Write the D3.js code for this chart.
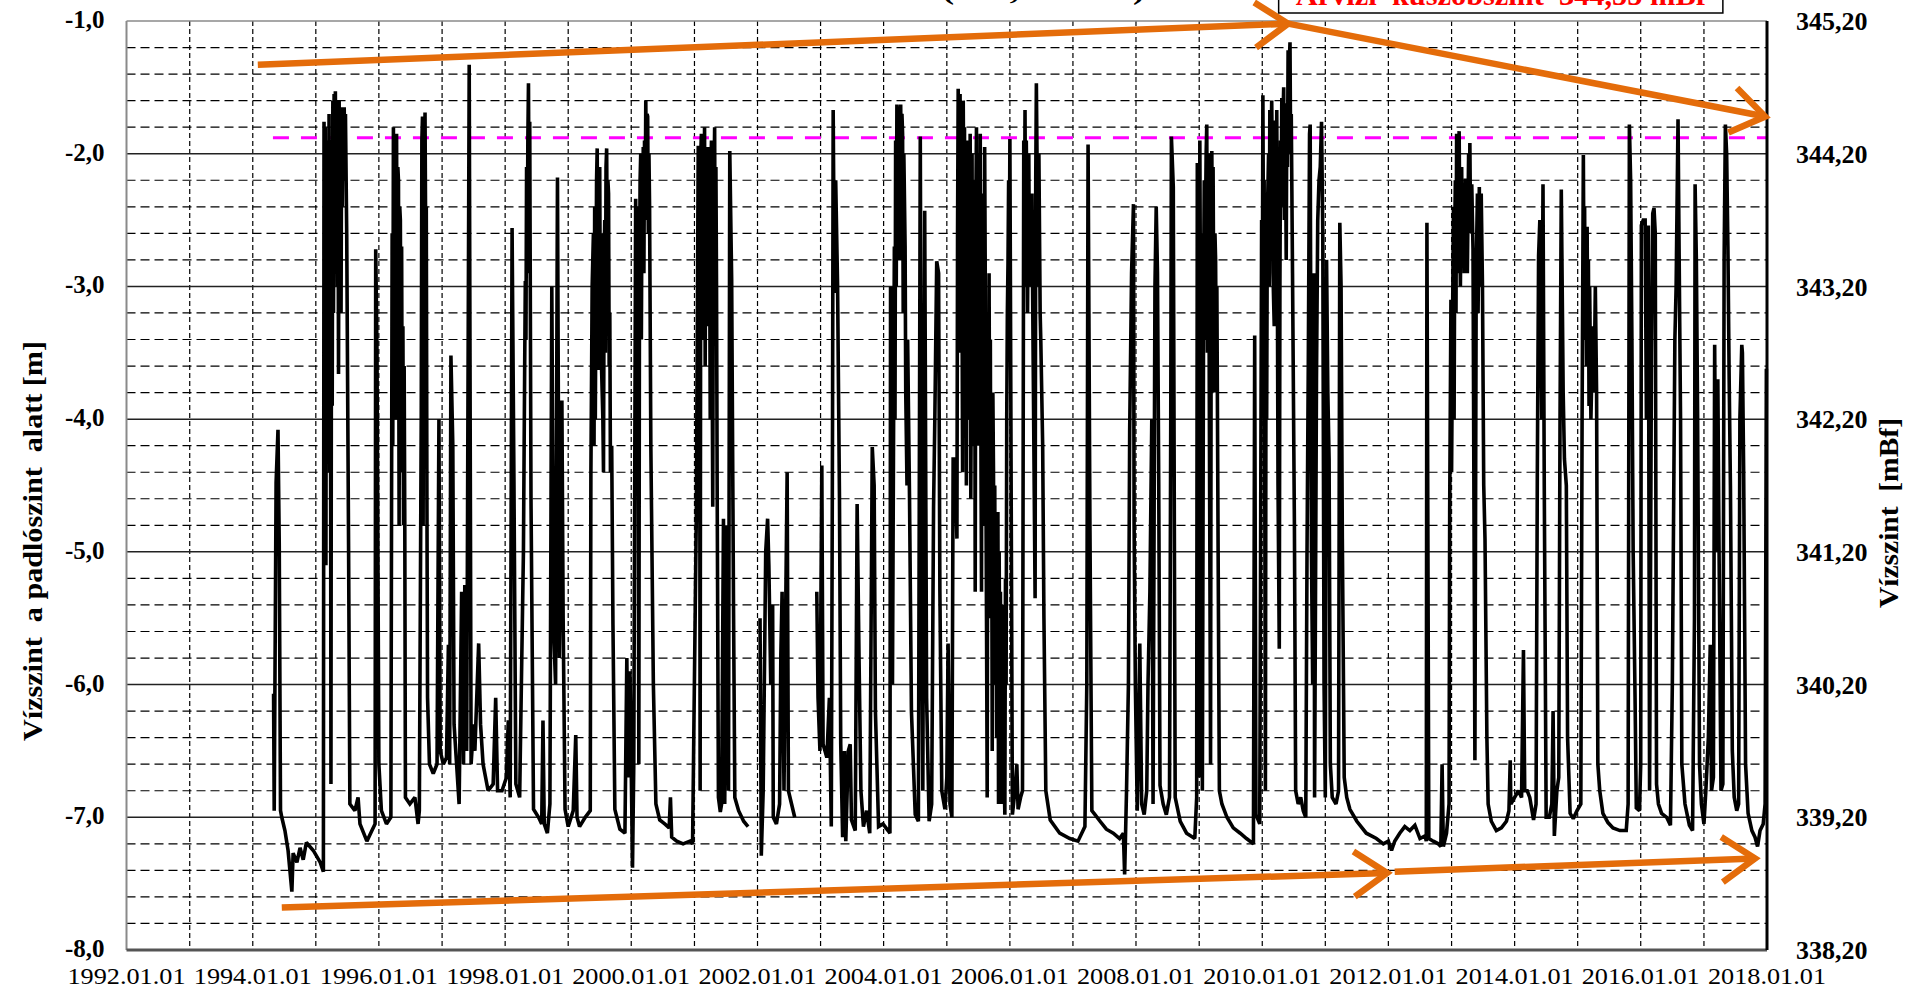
<!DOCTYPE html>
<html>
<head>
<meta charset="utf-8">
<script src="https://cdn.jsdelivr.net/npm/d3@7"></script>
<style>
  body { margin: 0; background: #fff; }
  svg { display: block; background: #fff; }
  text { font-family: "Liberation Serif", "Times New Roman", serif; }
</style>
</head>
<body>
<svg id="chart" width="1907" height="990" viewBox="0 0 1907 990"></svg>
<script>
// ---- data ----
const xLabelYears = [1992, 1994, 1996, 1998, 2000, 2002, 2004, 2006, 2008, 2010, 2012, 2014, 2016, 2018];
const gridYears = [1993, 1994, 1995, 1996, 1997, 1998, 1999, 2000, 2001, 2002, 2003, 2004, 2005,
    2006, 2007, 2008, 2009, 2010, 2011, 2012, 2013, 2014, 2015, 2016, 2017];
const depthTicks = [-8, -7, -6, -5, -4, -3, -2, -1];
const mbfTicks = [338.2, 339.2, 340.2, 341.2, 342.2, 343.2, 344.2, 345.2];
const floorLevel = 346.2;          // mBf, 0 m on the left axis
const thresholdLine = { from: 1994.32, level: -1.88 };
const thresholdText = "Árvízi  küszöbszint  344,55 mBf";
const thresholdBox = [2010.26, 2017.30];
const titleFragment = "(346,20 mBf)";
const titleSpan = [2004.92, 2008.15];

// hand-drawn orange trend arrows [year, level]
const trendArrows = [
    [[1994.08, -1.33], [2010.41, -1.02]],
    [[2010.41, -1.02], [2017.97, -1.72]],
    [[1994.46, -7.68], [2011.98, -7.42]],
    [[2012.10, -7.41], [2017.81, -7.31]]
];

// water level below floor [decimal year, m]; null = gap in record
const wellSeries = [
    [1994.33, -6.07], [1994.34, -6.95], [1994.37, -4.48], [1994.40, -4.08], [1994.42, -4.95], [1994.44, -6.95],
    [1994.46, -7.0], [1994.51, -7.1], [1994.56, -7.25], [1994.62, -7.56], [1994.64, -7.27], [1994.70, -7.34],
    [1994.75, -7.23], [1994.80, -7.32], [1994.85, -7.19], [1994.96, -7.25], [1995.07, -7.34], [1995.12, -7.41],
    [1995.13, -1.76], [1995.14, -4.6], [1995.15, -1.8], [1995.16, -5.1], [1995.17, -1.9], [1995.18, -4.2],
    [1995.19, -2.0], [1995.20, -3.8], [1995.21, -1.7], [1995.22, -4.4], [1995.23, -2.1], [1995.24, -6.75],
    [1995.25, -1.9], [1995.26, -3.9], [1995.27, -1.6], [1995.28, -3.2], [1995.29, -1.55], [1995.30, -2.9],
    [1995.31, -1.53], [1995.32, -2.6], [1995.33, -1.6], [1995.34, -3.0], [1995.35, -1.62], [1995.36, -3.66],
    [1995.37, -1.6], [1995.38, -2.8], [1995.39, -1.65], [1995.40, -3.2], [1995.41, -1.7], [1995.42, -2.4],
    [1995.43, -1.65], [1995.44, -2.2], [1995.45, -1.65], [1995.46, -2.0], [1995.47, -1.7], [1995.49, -2.6],
    [1995.52, -5.0], [1995.54, -6.9],
    [1995.62, -6.95], [1995.67, -6.85], [1995.70, -7.05], [1995.81, -7.18], [1995.89, -7.1], [1995.94, -7.05],
    [1995.95, -2.72], [1995.97, -3.5], [1996.00, -6.6], [1996.04, -6.95], [1996.12, -7.05], [1996.19, -7.0],
    [1996.21, -2.6], [1996.22, -4.2], [1996.23, -1.8], [1996.24, -3.5], [1996.25, -1.85], [1996.26, -4.0],
    [1996.27, -2.0], [1996.28, -1.85], [1996.29, -3.6], [1996.30, -2.1], [1996.31, -2.2], [1996.32, -4.8],
    [1996.33, -2.4], [1996.34, -2.5], [1996.35, -4.0], [1996.36, -2.7], [1996.37, -4.4], [1996.38, -3.3],
    [1996.39, -4.8], [1996.40, -3.6], [1996.41, -4.8], [1996.42, -6.85],
    [1996.49, -6.9], [1996.57, -6.85], [1996.62, -7.05], [1996.64, -6.95],
    [1996.67, -4.0], [1996.68, -1.9], [1996.69, -1.72], [1996.70, -4.8], [1996.71, -2.0], [1996.72, -3.5],
    [1996.73, -1.69], [1996.74, -2.6], [1996.75, -2.4], [1996.76, -4.6], [1996.77, -6.1],
    [1996.80, -6.6], [1996.86, -6.67], [1996.92, -6.6], [1996.95, -4.0],
    [1996.97, -6.5], [1997.02, -6.6], [1997.07, -6.55], [1997.10, -5.7], [1997.12, -6.6], [1997.14, -3.52],
    [1997.17, -4.2], [1997.19, -6.3], [1997.23, -6.6], [1997.27, -6.9], [1997.31, -5.3], [1997.34, -6.6],
    [1997.36, -5.25], [1997.39, -6.5], [1997.43, -1.33], [1997.46, -6.6], [1997.50, -6.3], [1997.52, -6.5],
    [1997.58, -5.69], [1997.61, -6.3], [1997.65, -6.6], [1997.73, -6.8], [1997.81, -6.75], [1997.85, -6.1],
    [1997.88, -6.8], [1997.95, -6.8], [1998.02, -6.7], [1998.05, -6.27], [1998.08, -6.85], [1998.11, -2.56],
    [1998.14, -4.5], [1998.17, -6.75], [1998.23, -6.85], [1998.29, -5.0], [1998.31, -3.6], [1998.32, -2.96],
    [1998.33, -3.4], [1998.34, -2.1], [1998.35, -2.9], [1998.36, -1.9], [1998.37, -1.47], [1998.38, -2.5],
    [1998.39, -1.76], [1998.41, -4.6], [1998.45, -6.94], [1998.53, -7.0], [1998.58, -7.05],
    [1998.60, -6.27], [1998.62, -7.05], [1998.67, -7.12], [1998.71, -6.9], [1998.74, -3.0], [1998.77, -5.6],
    [1998.80, -6.0], [1998.83, -2.18], [1998.86, -5.8], [1998.90, -3.86], [1998.92, -5.5], [1998.95, -6.94],
    [1999.00, -7.07], [1999.08, -6.95], [1999.12, -6.38], [1999.14, -7.0], [1999.18, -7.07], [1999.27, -7.0],
    [1999.35, -6.95], [1999.36, -4.42], [1999.38, -3.0], [1999.40, -2.6], [1999.41, -4.2], [1999.42, -2.4],
    [1999.43, -4.0], [1999.45, -2.2], [1999.46, -1.96], [1999.47, -3.0], [1999.48, -3.63], [1999.49, -2.3],
    [1999.50, -2.1], [1999.51, -3.3], [1999.52, -2.6], [1999.53, -3.63], [1999.55, -4.0], [1999.56, -4.4],
    [1999.57, -2.8], [1999.58, -2.5], [1999.59, -3.5], [1999.60, -2.1], [1999.61, -1.96], [1999.62, -2.8],
    [1999.63, -2.2], [1999.64, -2.3], [1999.65, -3.6], [1999.66, -3.2], [1999.67, -4.4], [1999.69, -4.2],
    [1999.71, -5.55], [1999.74, -6.94], [1999.82, -7.09], [1999.90, -7.12],
    [1999.93, -5.8], [1999.95, -6.7], [1999.98, -5.9], [2000.02, -7.38], [2000.04, -6.6],
    [2000.07, -2.34], [2000.08, -4.0], [2000.09, -2.4], [2000.10, -2.7], [2000.11, -4.2], [2000.12, -6.6],
    [2000.13, -3.0], [2000.14, -2.2], [2000.15, -2.0], [2000.16, -3.4], [2000.17, -2.3], [2000.18, -2.7],
    [2000.19, -1.95], [2000.20, -2.9], [2000.21, -1.9], [2000.22, -2.5], [2000.23, -1.6], [2000.24, -2.2],
    [2000.25, -1.7], [2000.26, -1.72], [2000.27, -2.6], [2000.28, -2.0], [2000.29, -2.4], [2000.31, -4.2],
    [2000.35, -6.0], [2000.39, -6.9], [2000.45, -7.02],
    [2000.53, -7.05], [2000.60, -7.08], [2000.62, -6.85], [2000.64, -7.15], [2000.72, -7.18], [2000.82, -7.2],
    [2000.93, -7.18], [2000.97, -7.2], [2000.99, -6.36], [2001.03, -4.7],
    [2001.06, -1.94], [2001.07, -3.8], [2001.08, -2.2], [2001.09, -6.8], [2001.10, -2.0], [2001.11, -1.85],
    [2001.12, -3.4], [2001.13, -2.1], [2001.14, -1.9], [2001.15, -3.1], [2001.16, -1.8], [2001.17, -3.6],
    [2001.18, -2.4], [2001.19, -2.0], [2001.20, -3.3], [2001.21, -1.95], [2001.22, -3.0], [2001.23, -2.2],
    [2001.24, -2.6], [2001.25, -4.0], [2001.26, -2.1], [2001.27, -1.9], [2001.28, -3.5], [2001.29, -4.66],
    [2001.30, -2.5], [2001.31, -2.2], [2001.32, -1.8], [2001.33, -3.4], [2001.34, -2.1], [2001.35, -3.0],
    [2001.36, -4.5], [2001.38, -6.85],
    [2001.41, -6.96], [2001.43, -6.9], [2001.46, -4.75], [2001.48, -6.9], [2001.51, -4.8], [2001.54, -6.8],
    [2001.56, -1.98], [2001.59, -2.95], [2001.62, -5.46], [2001.64, -6.85], [2001.70, -6.95], [2001.78, -7.03],
    [2001.85, -7.07], [2001.95, null],
    [2002.04, -5.5], [2002.06, -7.29], [2002.09, -6.8], [2002.13, -5.0], [2002.16, -4.75], [2002.18, -5.1],
    [2002.21, -6.0], [2002.24, -5.4], [2002.25, -7.0], [2002.30, -7.05], [2002.35, -6.9], [2002.37, -5.78],
    [2002.39, -5.3], [2002.42, -6.8], [2002.45, -5.3], [2002.47, -4.4], [2002.49, -6.8], [2002.54, -6.9],
    [2002.59, -7.0], [2002.75, null],
    [2002.94, -5.3], [2002.96, -6.1], [2002.99, -6.5], [2003.02, -4.35], [2003.04, -6.45], [2003.10, -6.55],
    [2003.14, -6.1], [2003.17, -7.07], [2003.19, -4.0], [2003.20, -1.67], [2003.22, -3.05], [2003.24, -2.2],
    [2003.27, -3.0], [2003.30, -4.6], [2003.32, -6.45], [2003.35, -7.15], [2003.38, -6.5], [2003.40, -7.18],
    [2003.44, -6.5], [2003.47, -6.45], [2003.49, -7.02], [2003.55, -7.1], [2003.58, -4.64], [2003.61, -5.8],
    [2003.64, -6.8], [2003.68, -7.07], [2003.73, -6.95], [2003.78, -7.12], [2003.82, -4.21], [2003.85, -4.5],
    [2003.87, -6.2], [2003.92, -7.07], [2003.99, -7.05], [2004.07, -7.1], [2004.10, -7.12], [2004.11, -3.0],
    [2004.14, -6.0], [2004.17, -2.7], [2004.18, -4.0], [2004.19, -1.9], [2004.20, -3.0], [2004.21, -1.63],
    [2004.22, -2.4], [2004.23, -1.66], [2004.24, -1.7], [2004.25, -2.8], [2004.26, -1.7], [2004.27, -1.63],
    [2004.28, -2.2], [2004.29, -1.7], [2004.30, -1.85], [2004.31, -3.2], [2004.32, -2.0], [2004.34, -2.7],
    [2004.35, -3.8], [2004.37, -4.5], [2004.38, -3.4], [2004.41, -4.6], [2004.44, -6.2],
    [2004.50, -6.98], [2004.55, -7.03],
    [2004.58, -1.87], [2004.60, -5.0], [2004.62, -6.8], [2004.65, -2.43], [2004.68, -6.1], [2004.72, -7.03],
    [2004.76, -6.9], [2004.79, -4.66], [2004.81, -4.0], [2004.84, -2.81], [2004.87, -2.9], [2004.89, -5.3],
    [2004.92, -6.8], [2004.97, -6.94], [2005.00, -6.7], [2005.02, -5.69], [2005.05, -6.9], [2005.08, -7.0],
    [2005.10, -4.3], [2005.13, -4.3],
    [2005.16, -4.9], [2005.17, -2.6], [2005.18, -1.51], [2005.19, -3.5], [2005.20, -1.6], [2005.21, -1.55],
    [2005.22, -3.1], [2005.23, -1.7], [2005.24, -2.9], [2005.25, -4.4], [2005.26, -1.6], [2005.27, -2.5],
    [2005.28, -1.8], [2005.29, -3.8], [2005.30, -2.2], [2005.31, -4.5], [2005.32, -1.9], [2005.33, -2.6],
    [2005.34, -4.0], [2005.35, -2.1], [2005.36, -3.3], [2005.37, -1.85], [2005.38, -4.6], [2005.39, -3.5],
    [2005.40, -2.0], [2005.41, -4.2], [2005.42, -2.5], [2005.43, -3.6], [2005.44, -2.2], [2005.45, -5.3],
    [2005.46, -2.4], [2005.47, -1.8], [2005.48, -3.9], [2005.49, -2.6], [2005.50, -4.2], [2005.51, -2.0],
    [2005.52, -3.4], [2005.53, -1.85], [2005.54, -4.1], [2005.55, -5.3], [2005.56, -2.3], [2005.57, -3.6],
    [2005.58, -2.5], [2005.59, -4.8], [2005.60, -1.95], [2005.61, -3.0], [2005.62, -4.5], [2005.63, -5.6],
    [2005.64, -6.85], [2005.65, -4.0], [2005.66, -5.2], [2005.67, -2.9], [2005.68, -4.6], [2005.69, -3.4],
    [2005.70, -5.5], [2005.71, -4.2], [2005.72, -6.5], [2005.73, -3.8], [2005.74, -4.4], [2005.75, -5.8],
    [2005.76, -4.5], [2005.77, -6.0], [2005.78, -4.9], [2005.79, -6.4], [2005.80, -5.5], [2005.81, -4.7],
    [2005.82, -6.9], [2005.83, -5.0], [2005.84, -6.2], [2005.85, -5.3], [2005.86, -6.6], [2005.87, -6.9],
    [2005.88, -5.4], [2005.89, -6.5], [2005.90, -5.5], [2005.91, -6.7], [2005.92, -6.98], [2005.93, -5.2],
    [2005.94, -6.0], [2005.95, -4.0], [2005.96, -3.2], [2005.97, -2.83], [2005.98, -2.2], [2005.99, -3.0],
    [2006.00, -1.89], [2006.02, -4.5], [2006.04, -6.98], [2006.08, -6.8], [2006.11, -6.6], [2006.13, -6.94],
    [2006.17, -6.85], [2006.20, -6.8],
    [2006.22, -1.9], [2006.23, -3.0], [2006.24, -1.67], [2006.25, -2.8], [2006.26, -1.9], [2006.27, -2.4],
    [2006.28, -3.2], [2006.29, -2.5], [2006.30, -2.0], [2006.31, -3.0], [2006.32, -2.3], [2006.33, -2.7],
    [2006.35, -2.3], [2006.36, -3.0], [2006.37, -3.6], [2006.40, -5.35], [2006.41, -2.2], [2006.42, -1.47],
    [2006.43, -2.0], [2006.44, -3.0], [2006.45, -2.5], [2006.46, -2.0], [2006.47, -2.6], [2006.48, -3.2],
    [2006.49, -3.4], [2006.52, -4.2], [2006.54, -5.5], [2006.57, -6.8], [2006.64, -7.02], [2006.79, -7.12],
    [2006.95, -7.16], [2007.08, -7.18], [2007.19, -7.07], [2007.22, -6.0], [2007.24, -1.93], [2007.27, -4.84],
    [2007.30, -6.95], [2007.35, -6.98], [2007.43, -7.03], [2007.53, -7.09], [2007.64, -7.12], [2007.74, -7.16],
    [2007.80, -7.12], [2007.82, -7.43], [2007.85, -6.8], [2007.88, -6.0], [2007.90, -4.08], [2007.93, -2.9],
    [2007.96, -2.38], [2007.97, -4.8], [2007.99, -6.0], [2008.02, -6.95], [2008.04, -6.4], [2008.06, -5.69],
    [2008.09, -6.9], [2008.13, -6.98], [2008.17, -6.8], [2008.19, -6.0], [2008.22, -5.3], [2008.25, -4.0],
    [2008.27, -6.9], [2008.30, -3.0], [2008.32, -2.4], [2008.34, -2.9], [2008.36, -4.5], [2008.38, -6.76],
    [2008.43, -6.9], [2008.48, -6.98], [2008.53, -6.85], [2008.55, -4.0], [2008.56, -1.87], [2008.59, -2.25],
    [2008.62, -6.85], [2008.70, -7.03], [2008.80, -7.12], [2008.93, -7.16], [2008.96, -6.85], [2008.97, -2.07],
    [2009.00, -6.7], [2009.01, -1.9], [2009.02, -3.2], [2009.03, -2.6], [2009.04, -4.4], [2009.05, -6.8],
    [2009.07, -3.0], [2009.08, -2.2], [2009.09, -3.4], [2009.10, -2.5], [2009.11, -2.0], [2009.12, -1.78],
    [2009.13, -3.5], [2009.14, -2.4], [2009.15, -2.0], [2009.16, -3.8], [2009.18, -6.6], [2009.19, -3.0],
    [2009.20, -1.98], [2009.21, -2.8], [2009.22, -2.1], [2009.23, -3.1], [2009.24, -3.8], [2009.25, -2.6],
    [2009.26, -2.8], [2009.27, -3.6], [2009.28, -3.0], [2009.30, -5.0], [2009.32, -6.8], [2009.36, -6.9],
    [2009.44, -7.0], [2009.54, -7.08], [2009.65, -7.12], [2009.75, -7.16], [2009.86, -7.2], [2009.88, -3.37],
    [2009.90, -6.98], [2009.96, -7.05], [2009.99, -2.5], [2010.00, -3.6], [2010.01, -1.56], [2010.02, -2.8],
    [2010.03, -2.2], [2010.05, -6.8], [2010.06, -3.2], [2010.07, -4.0], [2010.08, -2.5], [2010.10, -2.0],
    [2010.11, -3.0], [2010.12, -1.67], [2010.13, -2.4], [2010.15, -1.6], [2010.16, -2.1], [2010.17, -2.9],
    [2010.19, -3.3], [2010.20, -2.2], [2010.21, -1.75], [2010.22, -2.6], [2010.23, -1.67], [2010.24, -3.0],
    [2010.25, -4.5], [2010.27, -5.73], [2010.28, -3.0], [2010.29, -1.9], [2010.30, -2.4], [2010.31, -1.58],
    [2010.32, -2.2], [2010.33, -1.7], [2010.34, -1.5], [2010.35, -2.5], [2010.37, -2.0], [2010.38, -2.8],
    [2010.39, -1.62], [2010.40, -2.1], [2010.41, -1.22], [2010.42, -1.8], [2010.43, -1.3], [2010.44, -1.16],
    [2010.45, -2.0], [2010.46, -1.7], [2010.48, -2.9], [2010.51, -4.8], [2010.53, -6.8], [2010.57, -6.9],
    [2010.61, -6.85], [2010.65, -6.95],
    [2010.69, -7.0], [2010.71, -5.0], [2010.73, -3.6], [2010.75, -1.85], [2010.76, -1.78], [2010.78, -5.0],
    [2010.80, -6.0], [2010.82, -2.9], [2010.83, -6.85], [2010.86, -3.7], [2010.88, -2.5], [2010.90, -2.2],
    [2010.92, -2.1], [2010.94, -1.76], [2010.96, -2.6], [2010.98, -6.0], [2011.00, -6.85], [2011.02, -2.8],
    [2011.04, -3.8], [2011.06, -4.3], [2011.08, -6.6], [2011.11, -6.85], [2011.17, -6.9], [2011.21, -6.8],
    [2011.23, -2.52], [2011.25, -3.0], [2011.27, -4.9], [2011.30, -6.7], [2011.34, -6.85], [2011.39, -6.94],
    [2011.50, -7.03], [2011.65, -7.12], [2011.81, -7.16], [2011.92, -7.2], [2012.00, -7.18], [2012.05, -7.25],
    [2012.10, -7.18], [2012.18, -7.12], [2012.26, -7.07], [2012.34, -7.1], [2012.42, -7.06], [2012.50, -7.16],
    [2012.58, -7.14], [2012.60, -7.18], [2012.61, -2.52], [2012.64, -7.16], [2012.71, -7.18], [2012.79, -7.2],
    [2012.83, -7.22], [2012.85, -6.6], [2012.87, -7.22], [2012.92, -7.12], [2012.96, -6.9], [2012.97, -4.7],
    [2012.99, -3.1], [2013.00, -4.4], [2013.02, -3.0], [2013.03, -2.4], [2013.04, -4.0], [2013.05, -2.6],
    [2013.06, -2.2], [2013.07, -3.2], [2013.08, -1.85], [2013.09, -2.9], [2013.10, -2.6], [2013.11, -2.0],
    [2013.12, -1.83], [2013.13, -2.54], [2013.14, -3.0], [2013.15, -2.3], [2013.16, -2.1], [2013.17, -2.8],
    [2013.19, -2.23], [2013.20, -2.9], [2013.21, -2.5], [2013.22, -2.2], [2013.24, -2.2], [2013.25, -2.9],
    [2013.27, -2.0], [2013.28, -2.6], [2013.29, -1.92], [2013.30, -2.5], [2013.32, -2.23], [2013.34, -2.72],
    [2013.37, -6.57], [2013.39, -3.0], [2013.40, -2.6], [2013.41, -2.3], [2013.42, -3.2], [2013.44, -2.25],
    [2013.45, -3.0], [2013.47, -2.3], [2013.49, -3.0], [2013.51, -4.5], [2013.53, -4.9],
    [2013.56, -6.4], [2013.58, -6.9], [2013.63, -7.03], [2013.71, -7.1], [2013.79, -7.08], [2013.87, -7.03],
    [2013.91, -6.95], [2013.93, -6.57], [2013.94, -6.9], [2014.00, -6.85], [2014.06, -6.8], [2014.11, -6.85],
    [2014.14, -5.74], [2014.16, -6.8], [2014.20, -6.8], [2014.24, -6.85], [2014.30, -7.02], [2014.34, -6.9],
    [2014.36, -4.4], [2014.38, -2.77], [2014.40, -2.5], [2014.43, -4.0], [2014.45, -2.23], [2014.47, -4.5],
    [2014.50, -7.0], [2014.55, -7.0], [2014.59, -6.9], [2014.61, -6.2], [2014.63, -7.14], [2014.67, -6.8],
    [2014.70, -6.7], [2014.72, -4.0], [2014.74, -2.27], [2014.77, -3.8], [2014.79, -4.3], [2014.82, -4.5],
    [2014.84, -6.4], [2014.88, -6.97], [2014.93, -7.01], [2014.99, -6.95], [2015.05, -6.9], [2015.07, -4.0],
    [2015.09, -2.01], [2015.10, -3.0], [2015.11, -2.4], [2015.12, -3.4], [2015.13, -2.6], [2015.14, -3.6],
    [2015.15, -2.55], [2015.16, -3.5], [2015.17, -2.8], [2015.18, -3.9], [2015.19, -3.0], [2015.21, -4.0],
    [2015.24, -3.3], [2015.26, -3.8], [2015.28, -3.0], [2015.30, -3.8], [2015.32, -6.6],
    [2015.35, -6.8], [2015.40, -6.97], [2015.48, -7.04], [2015.56, -7.08], [2015.67, -7.1], [2015.77, -7.1],
    [2015.80, -6.9], [2015.82, -1.78], [2015.84, -2.2], [2015.86, -3.4], [2015.88, -5.0], [2015.91, -6.1],
    [2015.93, -6.93], [2015.98, -6.95], [2016.00, -6.6], [2016.01, -2.54], [2016.04, -2.5], [2016.07, -2.5],
    [2016.09, -4.0], [2016.12, -2.54], [2016.14, -6.8], [2016.17, -3.5], [2016.19, -2.45], [2016.21, -2.41],
    [2016.23, -2.6], [2016.25, -6.75], [2016.28, -6.9], [2016.33, -6.97], [2016.41, -7.0], [2016.47, -7.06],
    [2016.50, -6.0], [2016.54, -3.4], [2016.56, -3.0], [2016.59, -1.74], [2016.61, -2.9], [2016.63, -4.0],
    [2016.65, -6.6], [2016.70, -6.9], [2016.77, -7.06], [2016.82, -7.1], [2016.85, -5.5], [2016.86, -2.23],
    [2016.88, -2.8], [2016.90, -4.0], [2016.93, -6.6], [2016.96, -6.9], [2017.00, -7.05], [2017.03, -6.8],
    [2017.07, -6.4], [2017.10, -5.7], [2017.12, -6.8], [2017.15, -6.7], [2017.17, -3.44], [2017.19, -5.0],
    [2017.22, -3.7], [2017.24, -5.0], [2017.27, -6.8], [2017.30, -6.75], [2017.32, -2.8], [2017.34, -1.78],
    [2017.36, -2.0], [2017.38, -2.7], [2017.40, -3.7], [2017.42, -4.5], [2017.45, -6.5], [2017.48, -6.85],
    [2017.52, -6.95], [2017.55, -6.9], [2017.57, -4.0], [2017.60, -3.44], [2017.61, -3.5], [2017.63, -4.4],
    [2017.66, -6.6], [2017.70, -6.97], [2017.76, -7.1], [2017.81, -7.15], [2017.85, -7.22], [2017.89, -7.1],
    [2017.94, -7.05], [2017.97, -6.9], [2017.99, -3.62]
];

// ---- layout ----
const svg = d3.select("#chart");
const margin = { top: 21, left: 126.5 };
const plotW = 1767 - margin.left;
const plotH = 950 - margin.top;

// decimal year -> Date
const toDate = yr => {
    const y = Math.floor(yr);
    const a = Date.UTC(y, 0, 1), b = Date.UTC(y + 1, 0, 1);
    return new Date(a + (yr - y) * (b - a));
};

const x = d3.scaleUtc()
    .domain([toDate(1992), toDate(2018)])
    .range([0, plotW]);
const y = d3.scaleLinear().domain([-8, -1]).range([plotH, 0]);
const yRight = d3.scaleLinear()
    .domain([-8 + floorLevel, -1 + floorLevel])
    .range([plotH, 0]);

const g = svg.append("g").attr("transform", `translate(${margin.left},${margin.top})`);

// minor horizontal grid (dashed, every 0.2 m)
const minorLevels = [];
depthTicks.slice(0, -1).forEach(t => [0.2, 0.4, 0.6, 0.8].forEach(s => minorLevels.push(+(t + s).toFixed(1))));
g.append("g")
    .selectAll("line")
    .data(minorLevels)
    .join("line")
    .attr("x1", 0).attr("x2", plotW)
    .attr("y1", d => y(d)).attr("y2", d => y(d))
    .attr("stroke", "#000").attr("stroke-width", 1.2)
    .attr("stroke-dasharray", "9,5");

// vertical grid (dashed, every year)
g.append("g")
    .selectAll("line")
    .data(gridYears)
    .join("line")
    .attr("x1", d => x(toDate(d))).attr("x2", d => x(toDate(d)))
    .attr("y1", 0).attr("y2", plotH)
    .attr("stroke", "#000").attr("stroke-width", 1.2)
    .attr("stroke-dasharray", "5,3");

// major horizontal grid (solid, every 1 m)
g.append("g")
    .selectAll("line")
    .data(depthTicks.slice(1, -1))
    .join("line")
    .attr("x1", 0).attr("x2", plotW)
    .attr("y1", d => y(d)).attr("y2", d => y(d))
    .attr("stroke", "#222").attr("stroke-width", 1.5);

// threshold line (magenta dashed)
g.append("line")
    .attr("x1", x(toDate(thresholdLine.from))).attr("x2", plotW)
    .attr("y1", y(thresholdLine.level)).attr("y2", y(thresholdLine.level))
    .attr("stroke", "#ff00ff").attr("stroke-width", 3)
    .attr("stroke-dasharray", "16,12");

// plot frame
g.append("line").attr("x1", 0).attr("x2", plotW).attr("y1", 0).attr("y2", 0)
    .attr("stroke", "#8a8a8a").attr("stroke-width", 1.5);
g.append("line").attr("x1", 0).attr("x2", 0).attr("y1", 0).attr("y2", plotH)
    .attr("stroke", "#8a8a8a").attr("stroke-width", 2);
g.append("line").attr("x1", 0).attr("x2", plotW).attr("y1", plotH).attr("y2", plotH)
    .attr("stroke", "#555").attr("stroke-width", 3);
g.append("line").attr("x1", plotW).attr("x2", plotW).attr("y1", 0).attr("y2", plotH)
    .attr("stroke", "#000").attr("stroke-width", 3);

// water level line
const line = d3.line()
    .defined(d => d[1] !== null)
    .x(d => x(toDate(d[0])))
    .y(d => y(d[1]));

g.append("path")
    .datum(wellSeries)
    .attr("fill", "none")
    .attr("stroke", "#000")
    .attr("stroke-width", 3.6)
    .attr("stroke-linejoin", "miter")
    .attr("stroke-miterlimit", 2)
    .attr("d", line);

// orange trend arrows
const arrowColor = "#e46c0a";
trendArrows.forEach(([a, b]) => {
    const x1 = x(toDate(a[0])), y1 = y(a[1]);
    const x2 = x(toDate(b[0])), y2 = y(b[1]);
    const ang = Math.atan2(y2 - y1, x2 - x1);
    const len = 40, spread = 0.6;
    const b1 = [x2 - len * Math.cos(ang - spread), y2 - len * Math.sin(ang - spread)];
    const b2 = [x2 - len * Math.cos(ang + spread), y2 - len * Math.sin(ang + spread)];
    g.append("line")
        .attr("x1", x1).attr("y1", y1).attr("x2", x2).attr("y2", y2)
        .attr("stroke", arrowColor).attr("stroke-width", 6.5);
    g.append("path")
        .attr("d", `M${b1[0]},${b1[1]}L${x2},${y2}L${b2[0]},${b2[1]}`)
        .attr("fill", "none")
        .attr("stroke", arrowColor).attr("stroke-width", 6.5)
        .attr("stroke-linejoin", "miter");
});

// left axis labels
const fmt = v => v.toFixed(1).replace(".", ",");
g.append("g")
    .selectAll("text")
    .data(depthTicks)
    .join("text")
    .attr("x", -22)
    .attr("y", d => y(d))
    .attr("dy", "0.28em")
    .attr("text-anchor", "end")
    .attr("font-size", 25)
    .attr("font-weight", "bold")
    .text(fmt);

// right axis labels
g.append("g")
    .selectAll("text")
    .data(mbfTicks)
    .join("text")
    .attr("x", plotW + 29)
    .attr("y", d => yRight(d))
    .attr("dy", "0.35em")
    .attr("font-size", 26)
    .attr("font-weight", "bold")
    .text(d => d.toFixed(2).replace(".", ","));

// x axis labels
g.append("g")
    .selectAll("text")
    .data(xLabelYears)
    .join("text")
    .attr("x", d => x(toDate(d)))
    .attr("y", plotH + 34)
    .attr("text-anchor", "middle")
    .attr("font-size", 24)
    .attr("textLength", 118)
    .attr("lengthAdjust", "spacingAndGlyphs")
    .text(d => `${d}.01.01`);

// axis titles
svg.append("text")
    .attr("transform", "translate(42,541) rotate(-90)")
    .attr("text-anchor", "middle")
    .attr("font-size", 27)
    .attr("font-weight", "bold")
    .attr("textLength", 400)
    .attr("lengthAdjust", "spacingAndGlyphs")
    .style("white-space", "pre")
    .text("Vízszint  a padlószint  alatt [m]");

svg.append("text")
    .attr("transform", "translate(1898,513) rotate(-90)")
    .attr("text-anchor", "middle")
    .attr("font-size", 27)
    .attr("font-weight", "bold")
    .attr("textLength", 190)
    .attr("lengthAdjust", "spacingAndGlyphs")
    .style("white-space", "pre")
    .text("Vízszint  [mBf]");

// threshold label box (cut off by the top edge, as in the source)
const bx1 = margin.left + x(toDate(thresholdBox[0]));
const bx2 = margin.left + x(toDate(thresholdBox[1]));
svg.append("rect")
    .attr("x", bx1).attr("y", -30)
    .attr("width", bx2 - bx1).attr("height", 43)
    .attr("fill", "#fff").attr("stroke", "#000").attr("stroke-width", 1.5);
svg.append("text")
    .attr("x", (bx1 + bx2) / 2).attr("y", 5)
    .attr("text-anchor", "middle")
    .attr("font-size", 30)
    .attr("font-weight", "bold")
    .attr("fill", "#ff0000")
    .attr("textLength", 410)
    .attr("lengthAdjust", "spacingAndGlyphs")
    .style("white-space", "pre")
    .text(thresholdText);

// title fragment cut off at the top
const tx1 = margin.left + x(toDate(titleSpan[0]));
const tx2 = margin.left + x(toDate(titleSpan[1]));
svg.append("text")
    .attr("x", tx1).attr("y", -1)
    .attr("font-size", 28)
    .attr("font-weight", "bold")
    .attr("textLength", tx2 - tx1)
    .attr("lengthAdjust", "spacingAndGlyphs")
    .style("white-space", "pre")
    .text(titleFragment);
</script>
</body>
</html>
